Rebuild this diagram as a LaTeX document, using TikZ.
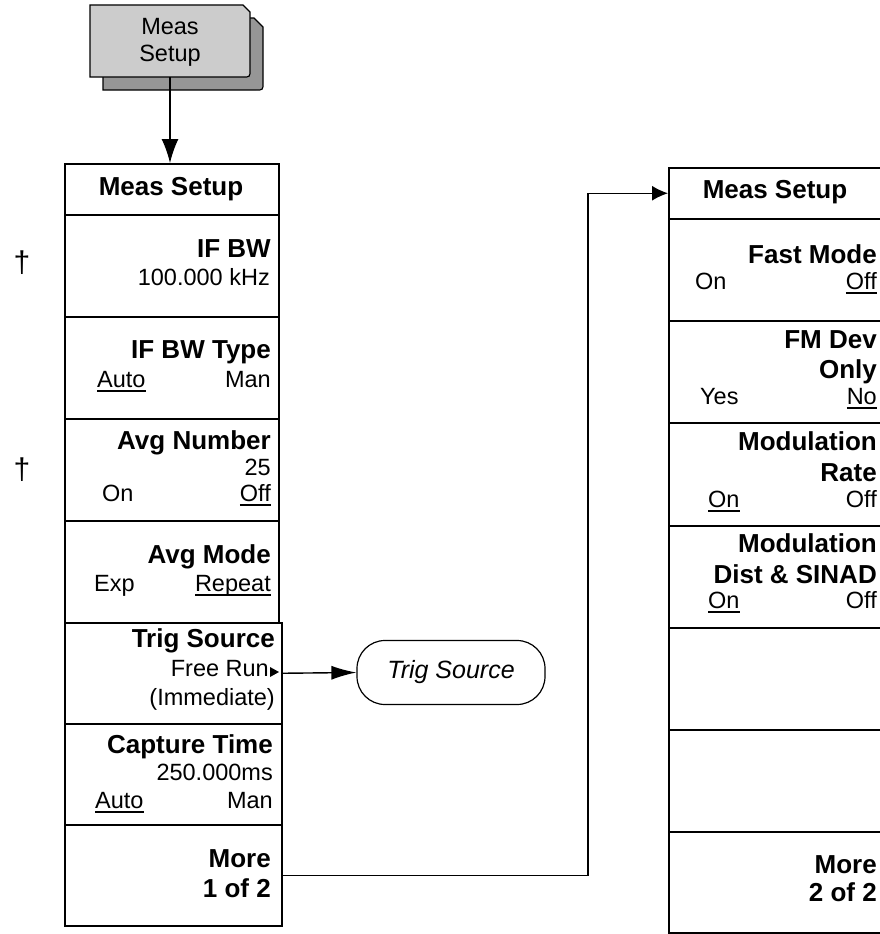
\documentclass[tikz,border=0pt]{standalone}
\usepackage{fontspec}
\setmainfont{Liberation Sans}
\usetikzlibrary{arrows.meta}
\newcommand\ulx[1]{\setbox0\hbox{#1}\rlap{\rule[-4.6pt]{\wd0}{1.5pt}}\box0}
\definecolor{keyface}{RGB}{204,204,204}
\definecolor{keyshadow}{RGB}{150,150,150}
\tikzset{
  mkey/.style={draw, line width=1.5pt, inner sep=0pt, anchor=north west},
  bl/.style={font=\fontsize{26}{28}\selectfont\bfseries, inner sep=0pt, anchor=base east},
  bc/.style={font=\fontsize{26}{28}\selectfont\bfseries, inner sep=0pt, anchor=base},
  rg/.style={font=\fontsize{23.5}{28}\selectfont, inner sep=0pt, anchor=base east},
  rgw/.style={font=\fontsize{23.5}{28}\selectfont, inner sep=0pt, anchor=base west},
  rgc/.style={font=\fontsize{23.5}{28}\selectfont, inner sep=0pt, anchor=base},
  dag/.style={font=\fontsize{30}{32}\selectfont, inner sep=0pt},
  conn/.style={line width=1.4pt},
}
\begin{document}
\begin{tikzpicture}[x=1pt,y=-1pt]
\useasboundingbox (0,0) rectangle (880,934);
\clip (0,0) rectangle (880,934);
% hard key
\filldraw[fill=keyshadow, line width=1.2pt, shift={(13,13)}]
  (90,5) -- (241,5) -- (250,14) -- (250,70) .. controls (250,77) .. (243,77) -- (90,77) -- cycle;
\filldraw[fill=keyface, line width=1.2pt]
  (90,5) -- (243,5) -- (250,12) -- (250,70) .. controls (250,77) .. (243,77) -- (90,77) -- cycle;
\node[inner sep=0pt, minimum width=160pt, minimum height=72pt] (key) at (170,41) {};
\node[rgc] (keyA) at (170,35) {Meas};
\node[rgc] (keyB) at (170,62) {Setup};
% left menu
\node[mkey, minimum width=214pt, minimum height=51pt] (L0) at (64,163) {};
\node[mkey, minimum width=214pt, minimum height=102pt] (L1) at (64,214) {};
\node[mkey, minimum width=214pt, minimum height=102pt] (L2) at (64,316) {};
\node[mkey, minimum width=214pt, minimum height=102pt] (L3) at (64,418) {};
\node[mkey, minimum width=214pt, minimum height=102pt] (L4) at (64,520) {};
\node[mkey, minimum width=217pt, minimum height=101pt] (L5) at (64,622) {};
\node[mkey, minimum width=217pt, minimum height=101pt] (L6) at (64,723) {};
\node[mkey, minimum width=217pt, minimum height=101pt] (L7) at (64,824) {};
\node[bc] (L0a) at (171,195) {Meas Setup};
\node[bl] (L1a) at (271,257) {IF BW};
\node[rg] (L1b) at (270,285) {100.000 kHz};
\node[bl] (L2a) at (271,358) {IF BW Type};
\node[rgw] (L2b) at (97,387) {\ulx{Auto}};
\node[rg] (L2c) at (271,387) {Man};
\node[bl] (L3a) at (271,449) {Avg Number};
\node[rg] (L3b) at (271,475) {25};
\node[rgw] (L3c) at (102,501) {On};
\node[rg] (L3d) at (271,501) {\ulx{Off}};
\node[bl] (L4a) at (271,563) {Avg Mode};
\node[rgw] (L4b) at (94,591) {Exp};
\node[rg] (L4c) at (271,591) {\ulx{Repeat}};
\node[bl] (L5a) at (275,647) {Trig Source};
\node[rg] (L5b) at (269,676) {Free Run};
\fill (270,667) -- (279,672) -- (270,677) -- cycle;
\node[rg] (L5c) at (275,705) {(Immediate)};
\node[bl] (L6a) at (273,753) {Capture Time};
\node[rg] (L6b) at (273,780) {250.000ms};
\node[rgw] (L6c) at (95,808) {\ulx{Auto}};
\node[rg] (L6d) at (273,808) {Man};
\node[bl] (L7a) at (271,867) {More};
\node[bl] (L7b) at (271,897) {1 of 2};
% daggers
\node[dag] (dag1) at (22,263) {†};
\node[dag] (dag2) at (22,470) {†};
% trig source oval
\node[draw, line width=1.2pt, rounded corners=28pt, minimum width=188pt, minimum height=64pt, inner sep=0pt,
      font=\fontsize{25}{28}\selectfont\itshape] (oval) at (451,672.5) {Trig Source};
% right menu
\node[mkey, minimum width=216pt, minimum height=51pt] (R0) at (668,167) {};
\node[mkey, minimum width=216pt, minimum height=102pt] (R1) at (668,218) {};
\node[mkey, minimum width=216pt, minimum height=102pt] (R2) at (668,320) {};
\node[mkey, minimum width=216pt, minimum height=103pt] (R3) at (668,422) {};
\node[mkey, minimum width=216pt, minimum height=102pt] (R4) at (668,525) {};
\node[mkey, minimum width=216pt, minimum height=102pt] (R5) at (668,627) {};
\node[mkey, minimum width=216pt, minimum height=102pt] (R6) at (668,729) {};
\node[mkey, minimum width=216pt, minimum height=101pt] (R7) at (668,831) {};
\node[bc] (R0a) at (775,198) {Meas Setup};
\node[bl] (R1a) at (877,263) {Fast Mode};
\node[rgw] (R1b) at (695,289) {On};
\node[rg] (R1c) at (877,289) {\ulx{Off}};
\node[bl] (R2a) at (877,348) {FM Dev};
\node[bl] (R2b) at (877,378) {Only};
\node[rgw] (R2c) at (700,404) {Yes};
\node[rg] (R2d) at (877,404) {\ulx{No}};
\node[bl] (R3a) at (877,450) {Modulation};
\node[bl] (R3b) at (877,481) {Rate};
\node[rgw] (R3c) at (708,507) {\ulx{On}};
\node[rg] (R3d) at (877,507) {Off};
\node[bl] (R4a) at (877,552) {Modulation};
\node[bl] (R4b) at (877,583) {Dist \& SINAD};
\node[rgw] (R4c) at (708,608) {\ulx{On}};
\node[rg] (R4d) at (877,608) {Off};
\node[bl] (R7a) at (877,873) {More};
\node[bl] (R7b) at (877,901) {2 of 2};
% connectors
\coordinate (bend) at (588,0);
\draw[conn, -{Latex[length=24pt,width=17pt]}] (key.south) -- (key.south |- L0.north);
\draw[conn, -{Latex[length=16pt,width=15pt]}] (L7.east) -- (L7.east -| bend) |- (R0.west);
\draw[conn, -{Latex[length=25pt,width=14pt]}] (L5.east) -- (oval.west);
\end{tikzpicture}
\end{document}
